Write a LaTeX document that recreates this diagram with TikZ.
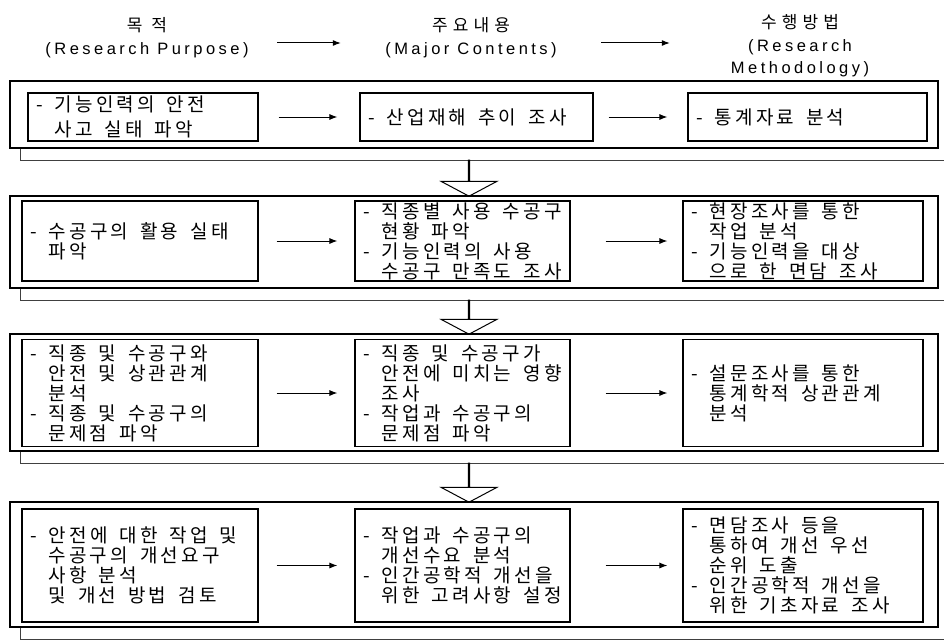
\documentclass[tikz,border=0pt]{standalone}
\usepackage{fontspec}
\setmainfont{Noto Sans CJK KR}[LetterSpace=17]
\newfontfamily\hdfont{Noto Sans CJK KR}[LetterSpace=30]
\newfontfamily\latfont{Liberation Sans}[LetterSpace=21]
\usetikzlibrary{arrows.meta,positioning,shapes.arrows,calc}

\newcommand{\ind}{\hphantom{- }}
\DeclareRobustCommand{\widespace}{\spaceskip=12pt\relax}

\begin{document}
\begin{tikzpicture}[
    x=1pt, y=-1pt,
    font=\fontsize{19pt}{20pt}\selectfont,
    % 머리글 스타일
    head/.style={
        inner sep=0pt,
        minimum width=260pt,
        align=center,
        font=\hdfont\fontsize{17pt}{22.5pt}\selectfont
    },
    % 단계별 바깥 틀
    frame/.style={
        draw,
        line width=1.1pt,
        minimum width=928pt,
        inner sep=0pt
    },
    % 바깥 틀 아래 그림자 선
    shadeline/.style={
        draw=black!75,
        line width=1pt
    },
    % 내용 상자
    box/.style={
        draw,
        line width=1.1pt,
        inner xsep=8pt,
        inner ysep=1pt,
        align=left,
        text width=#1,
        execute at begin node=\widespace
    },
    % 가는 화살표
    flow/.style={
        -{Latex[length=8pt, width=6pt]},
        line width=1pt
    },
    % 단계 사이 큰 화살표
    bigarrow/.style={
        single arrow,
        draw,
        fill=white,
        line width=1pt,
        shape border rotate=270,
        minimum width=56pt,
        single arrow head extend=18.5pt,
        single arrow tip angle=124,
        inner sep=0pt
    }
]
    \useasboundingbox (0,0) rectangle (944,642);

    % --- 1. 머리글 ---
    \node[head] (h1) at (147,37.5) {목 적\\{\latfont\fontsize{16.5pt}{22.5pt}\selectfont (Research Purpose)}};
    \node[head] (h2) at (471,37.5) {주요내용\\{\latfont\fontsize{16.5pt}{22.5pt}\selectfont (Major Contents)}};
    \node[head] (h3) at (800,46) {수행방법\\{\latfont\fontsize{16.5pt}{22.5pt}\selectfont (Research}\\{\latfont\fontsize{16.5pt}{22.5pt}\selectfont Methodology)}};

    \draw[flow] ([yshift=-5.5pt]h1.east) -- ([yshift=-5.5pt]h2.west);
    \draw[flow] ([yshift=-5.5pt]h2.east) -- ([yshift=-5.5pt]h2.east -| h3.west);

    % --- 2. 1단계 ---
    \node[frame, minimum height=67pt] (f1) at (474,114.5) {};
    \draw[shadeline] ([xshift=11pt]f1.south west) -- ++(0,12) -- ++(940,0);

    \node[box=214pt, minimum height=48pt, font=\fontsize{19pt}{25pt}\selectfont] (a1) at (143,117) {- 기능인력의 안전\\\ind 사고 실태 파악};
    \node[box=217pt, minimum height=48pt] (b1) at (476.5,117) {- 산업재해 추이 조사};
    \node[box=223pt, minimum height=48pt] (c1) at (807.5,117) {- 통계자료 분석};

    \draw[flow, shorten <=20pt, shorten >=22pt] (a1) -- (b1);
    \draw[flow, shorten <=15pt, shorten >=20pt] (b1) -- (c1);

    \node[bigarrow, minimum height=36pt] (d1) at (469,178) {};

    % --- 3. 2단계 ---
    \node[frame, minimum height=92pt] (f2) at (474,242) {};
    \draw[shadeline] ([xshift=11pt]f2.south west) -- ++(0,12) -- ++(940,0);

    \node[box=220pt, minimum height=80pt] (a2) at (140,241) {- 수공구의 활용 실태\\\ind 파악};
    \node[box=199pt, minimum height=80pt] (b2) at (462.5,241) {- 직종별 사용 수공구\\\ind 현황 파악\\- 기능인력의 사용\\\ind 수공구 만족도 조사};
    \node[box=224pt, minimum height=80pt] (c2) at (803,241) {- 현장조사를 통한\\\ind 작업 분석\\- 기능인력을 대상\\\ind 으로 한 면담 조사};

    \draw[flow, shorten <=18pt, shorten >=17pt] (a2) -- (b2);
    \draw[flow, shorten <=35pt, shorten >=15pt] (b2) -- (c2);

    \node[bigarrow, minimum height=34pt] (d2) at (469,317) {};

    % --- 4. 3단계 ---
    \node[frame, minimum height=117pt] (f3) at (474,392.5) {};
    \draw[shadeline] ([xshift=11pt]f3.south west) -- ++(0,12) -- ++(940,0);

    \node[box=220pt, minimum height=107pt] (a3) at (140,393) {- 직종 및 수공구와\\\ind 안전 및 상관관계\\\ind 분석\\- 직종 및 수공구의\\\ind 문제점 파악};
    \node[box=199pt, minimum height=107pt] (b3) at (462.5,393) {- 직종 및 수공구가\\\ind 안전에 미치는 영향\\\ind 조사\\- 작업과 수공구의\\\ind 문제점 파악};
    \node[box=224pt, minimum height=107pt] (c3) at (803,393) {- 설문조사를 통한\\\ind 통계학적 상관관계\\\ind 분석};

    \draw[flow, shorten <=18pt, shorten >=17pt] (a3) -- (b3);
    \draw[flow, shorten <=35pt, shorten >=15pt] (b3) -- (c3);

    \node[bigarrow, minimum height=39pt] (d3) at (469,482.5) {};

    % --- 5. 4단계 ---
    \node[frame, minimum height=125pt] (f4) at (474,564.5) {};
    \draw[shadeline] ([xshift=11pt]f4.south west) -- ++(0,12) -- ++(940,0);

    \node[box=220pt, minimum height=113pt] (a4) at (140,565.5) {- 안전에 대한 작업 및\\\ind 수공구의 개선요구\\\ind 사항 분석\\\ind 및 개선 방법 검토};
    \node[box=199pt, minimum height=113pt] (b4) at (462.5,565.5) {- 작업과 수공구의\\\ind 개선수요 분석\\- 인간공학적 개선을\\\ind 위한 고려사항 설정};
    \node[box=224pt, minimum height=113pt] (c4) at (803,565.5) {- 면담조사 등을\\\ind 통하여 개선 우선\\\ind 순위 도출\\- 인간공학적 개선을\\\ind 위한 기초자료 조사};

    \draw[flow, shorten <=18pt, shorten >=17pt] (a4) -- (b4);
    \draw[flow, shorten <=35pt, shorten >=15pt] (b4) -- (c4);

\end{tikzpicture}
\end{document}
